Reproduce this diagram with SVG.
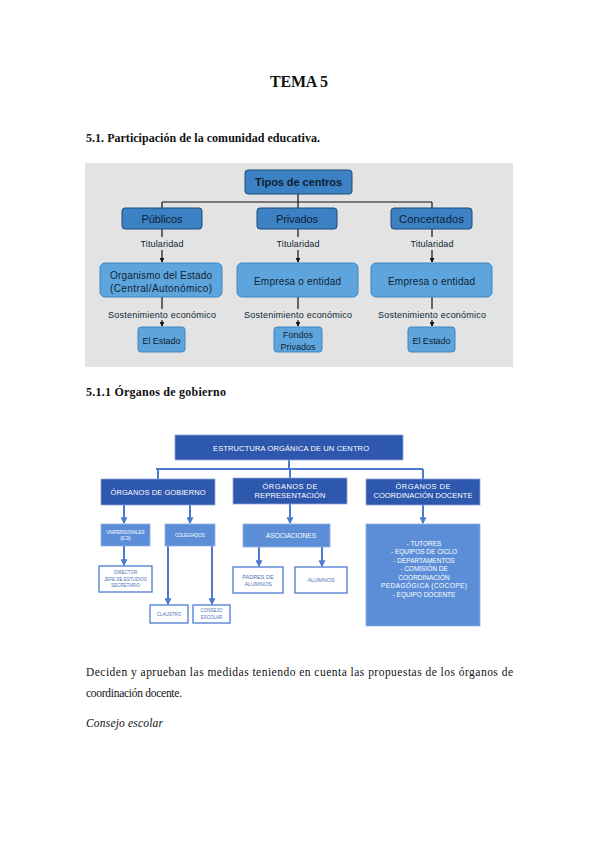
<svg xmlns="http://www.w3.org/2000/svg" width="599" height="848" viewBox="0 0 599 848">
<defs>
<style>
.serif{font-family:"Liberation Serif","Times New Roman",serif;fill:#111}
.b{font-weight:bold}
.sans{font-family:"Liberation Sans",Arial,sans-serif}
.t1{fill:#0d1f33}
.dk{fill:#3b81c4;stroke:#1f4b75;stroke-width:1}
.lt{fill:#5fa5dd;stroke:#3f86c2;stroke-width:1}
.c1{stroke:#111;stroke-width:1.2;fill:none}
.d2{fill:#2e57ae;stroke:#8fa9dc;stroke-width:0.8}
.m2{fill:#5b8ed7;stroke:#8fb0e6;stroke-width:0.8}
.w2{fill:#fff;stroke:#4a7bd0;stroke-width:1.3}
.c2{stroke:#4a7bd0;stroke-width:2;fill:none}
.wt{fill:#fff}
.bt{fill:#4f72b8}
</style>
<marker id="a1" viewBox="0 0 6 6" refX="5" refY="3" markerWidth="5" markerHeight="5" orient="auto" markerUnits="userSpaceOnUse"><path d="M0,0 L6,3 L0,6 z" fill="#111"/></marker>
<marker id="a2" viewBox="0 0 6 6" refX="5" refY="3" markerWidth="7" markerHeight="7" orient="auto" markerUnits="userSpaceOnUse"><path d="M0,0 L6,3 L0,6 z" fill="#4a7bd0"/></marker>
</defs>
<rect width="599" height="848" fill="#fff"/>

<g id="text-page">
<text class="serif b" x="299" y="87" font-size="16" text-anchor="middle" textLength="58">TEMA 5</text>
<text class="serif b" x="86" y="142" font-size="12" textLength="234">5.1. Participación de la comunidad educativa.</text>
<text class="serif b" x="86" y="396" font-size="12" textLength="140">5.1.1 Órganos de gobierno</text>
<text class="serif" x="86" y="676" font-size="11.5" textLength="427">Deciden y aprueban las medidas teniendo en cuenta las propuestas de los órganos de</text>
<text class="serif" x="86" y="697" font-size="11.5" textLength="96">coordinación docente.</text>
<text class="serif" x="86" y="727" font-size="11.5" font-style="italic" textLength="77">Consejo escolar</text>
</g>

<!-- Diagram 1 -->
<rect id="diagram1-bg" x="85" y="163" width="428" height="204" fill="#e3e3e3"/>
<g id="connectors1">
<path class="c1" d="M298,194 V202 M162,202 H432 M162,202 V208 M298,202 V208 M432,202 V208"/>
<path class="c1" d="M162,229 V237 M162,250 V262" marker-end="url(#a1)"/>
<path class="c1" d="M298,229 V237 M298,250 V262" marker-end="url(#a1)"/>
<path class="c1" d="M432,229 V237 M432,250 V262" marker-end="url(#a1)"/>
<path class="c1" d="M162,297 V309 M162,320 V326" marker-end="url(#a1)"/>
<path class="c1" d="M298,297 V309 M298,320 V326" marker-end="url(#a1)"/>
<path class="c1" d="M432,297 V309 M432,320 V326" marker-end="url(#a1)"/>
</g>
<g class="sans t1" font-size="9" text-anchor="middle">
<text x="162" y="247" textLength="43">Titularidad</text>
<text x="298" y="247" textLength="43">Titularidad</text>
<text x="432" y="247" textLength="43">Titularidad</text>
<text x="162" y="318" textLength="108">Sostenimiento económico</text>
<text x="298" y="318" textLength="108">Sostenimiento económico</text>
<text x="432" y="318" textLength="108">Sostenimiento económico</text>
</g>
<g id="tipos"><rect class="dk" x="245" y="170" width="107" height="24" rx="3"/><text class="sans t1 b" x="298.5" y="186" font-size="11" text-anchor="middle" textLength="87">Tipos de centros</text></g>
<g id="publicos"><rect class="dk" x="122" y="208" width="80" height="21" rx="3"/><text class="sans t1" x="162" y="222.5" font-size="11" text-anchor="middle" textLength="41">Públicos</text></g>
<g id="privados"><rect class="dk" x="257" y="208" width="80" height="21" rx="3"/><text class="sans t1" x="297" y="222.5" font-size="11" text-anchor="middle" textLength="42">Privados</text></g>
<g id="concertados"><rect class="dk" x="391" y="208" width="81" height="21" rx="3"/><text class="sans t1" x="431.5" y="222.5" font-size="11" text-anchor="middle" textLength="65">Concertados</text></g>
<g id="organismo"><rect class="lt" x="100" y="263" width="122" height="34" rx="5"/><text class="sans t1" x="161" y="278.5" font-size="10" text-anchor="middle" textLength="102">Organismo del Estado</text><text class="sans t1" x="161" y="291.5" font-size="10" text-anchor="middle" textLength="102">(Central/Autonómico)</text></g>
<g id="empresa1"><rect class="lt" x="237" y="263" width="121" height="34" rx="5"/><text class="sans t1" x="297.5" y="285" font-size="10" text-anchor="middle" textLength="87">Empresa o entidad</text></g>
<g id="empresa2"><rect class="lt" x="371" y="263" width="121" height="34" rx="5"/><text class="sans t1" x="431.5" y="285" font-size="10" text-anchor="middle" textLength="87">Empresa o entidad</text></g>
<g id="estado1"><rect class="lt" x="138" y="327" width="47" height="25" rx="3"/><text class="sans t1" x="161.5" y="343.5" font-size="9" text-anchor="middle" textLength="38">El Estado</text></g>
<g id="fondos"><rect class="lt" x="274" y="327" width="48" height="25" rx="3"/><text class="sans t1" x="298" y="338" font-size="9" text-anchor="middle">Fondos</text><text class="sans t1" x="298" y="349.5" font-size="9" text-anchor="middle">Privados</text></g>
<g id="estado2"><rect class="lt" x="408" y="327" width="47" height="25" rx="3"/><text class="sans t1" x="431.5" y="343.5" font-size="9" text-anchor="middle" textLength="38">El Estado</text></g>

<!-- Diagram 2 -->
<g id="connectors2">
<path class="c2" d="M289,460 V469 M156,469 H423 M158,469 V479 M290,469 V479 M423,469 V479"/>
<path class="c2" d="M124,505 V523" marker-end="url(#a2)"/>
<path class="c2" d="M190,505 V523" marker-end="url(#a2)"/>
<path class="c2" d="M290,504 V523" marker-end="url(#a2)"/>
<path class="c2" d="M423,505 V523" marker-end="url(#a2)"/>
<path class="c2" d="M124,546 V565" marker-end="url(#a2)"/>
<path class="c2" d="M168,546 V604" marker-end="url(#a2)"/>
<path class="c2" d="M212,546 V604" marker-end="url(#a2)"/>
<path class="c2" d="M259,547 V566" marker-end="url(#a2)"/>
<path class="c2" d="M322,547 V566" marker-end="url(#a2)"/>
</g>
<g id="estructura"><rect class="d2" x="175" y="435" width="228" height="25"/><text class="sans wt" x="291" y="450.5" font-size="7.5" text-anchor="middle" textLength="156">ESTRUCTURA ORGÁNICA DE UN CENTRO</text></g>
<g id="gobierno"><rect class="d2" x="101" y="479" width="114" height="26"/><text class="sans wt" x="158" y="494.5" font-size="7.5" text-anchor="middle" textLength="95">ÓRGANOS DE GOBIERNO</text></g>
<g id="representacion"><rect class="d2" x="233" y="478" width="114" height="26"/><text class="sans wt" x="290" y="488.5" font-size="7.5" text-anchor="middle" textLength="55">ÓRGANOS DE</text><text class="sans wt" x="290" y="497.5" font-size="7.5" text-anchor="middle" textLength="71">REPRESENTACIÓN</text></g>
<g id="coordinacion"><rect class="d2" x="366" y="479" width="114" height="26"/><text class="sans wt" x="423" y="489" font-size="7.5" text-anchor="middle" textLength="55">ÓRGANOS DE</text><text class="sans wt" x="423" y="498" font-size="7.5" text-anchor="middle" textLength="99">COORDINACIÓN DOCENTE</text></g>
<g id="unipersonales"><rect class="m2" x="101" y="524" width="49" height="22"/><text class="sans wt" x="125.5" y="534" font-size="4.5" text-anchor="middle">UNIPERSONALES</text><text class="sans wt" x="125.5" y="540" font-size="4.5" text-anchor="middle">(E.D)</text></g>
<g id="colegiados"><rect class="m2" x="165" y="524" width="50" height="22"/><text class="sans wt" x="190" y="536.5" font-size="4.5" text-anchor="middle">COLEGIADOS</text></g>
<g id="asociaciones"><rect class="m2" x="243" y="524" width="87" height="23"/><text class="sans wt" x="291" y="538" font-size="6.5" text-anchor="middle" textLength="50">ASOCIACIONES</text></g>
<g id="lista-coordinacion"><rect class="m2" x="366" y="524" width="114" height="102"/>
<g class="sans wt" font-size="6.5" text-anchor="middle">
<text x="424" y="545.5">- TUTORES</text>
<text x="424" y="554">- EQUIPOS DE CICLO</text>
<text x="424" y="562.5">- DEPARTAMENTOS</text>
<text x="424" y="571">- COMISIÓN DE</text>
<text x="424" y="579.5">COORDINACIÓN</text>
<text x="424" y="588" textLength="86">PEDAGÓGICA (COCOPE)</text>
<text x="424" y="596.5">- EQUIPO DOCENTE</text>
</g></g>
<g id="director"><rect class="w2" x="99" y="566" width="53" height="26"/><g class="sans bt" font-size="4.5" text-anchor="middle"><text x="125.5" y="574">DIRECTOR</text><text x="125.5" y="580.5">JEFE DE ESTUDIOS</text><text x="125.5" y="587">SECRETARIO</text></g></g>
<g id="claustro"><rect class="w2" x="150" y="605" width="38" height="18"/><text class="sans bt" x="169" y="615.5" font-size="4.5" text-anchor="middle">CLAUSTRO</text></g>
<g id="consejo"><rect class="w2" x="193" y="605" width="37" height="18"/><text class="sans bt" x="211.5" y="612" font-size="4.5" text-anchor="middle">CONSEJO</text><text class="sans bt" x="211.5" y="618.5" font-size="4.5" text-anchor="middle">ESCOLAR</text></g>
<g id="padres"><rect class="w2" x="233" y="567" width="50" height="26"/><text class="sans bt" x="258" y="578.5" font-size="5.5" text-anchor="middle">PADRES DE</text><text class="sans bt" x="258" y="585.5" font-size="5.5" text-anchor="middle">ALUMNOS</text></g>
<g id="alumnos"><rect class="w2" x="295" y="567" width="52" height="26"/><text class="sans bt" x="321" y="582" font-size="5.5" text-anchor="middle">ALUMNOS</text></g>
</svg>
